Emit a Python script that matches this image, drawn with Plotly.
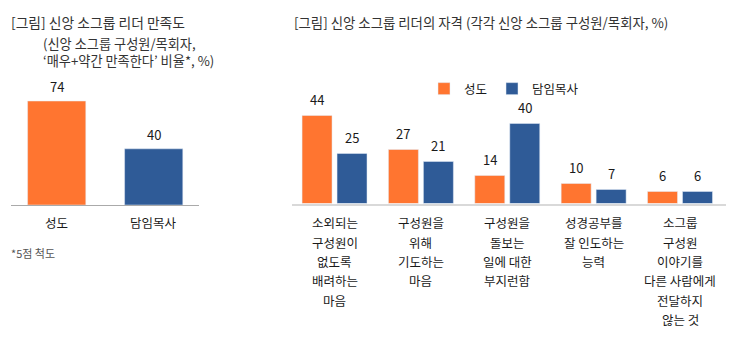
import plotly.graph_objects as go

W, H = 738, 339
FONT = "Noto Sans CJK KR"
ORANGE = "#FF7530"
BLUE = "#2F5B97"
TXT = "#1a1a1a"

# Left panel: satisfaction with small-group leader
sat_groups = ["성도", "담임목사"]
sat_values = [74, 40]

# Right panel: qualities of a small-group leader
qual_labels = [
    "소외되는<br>구성원이<br>없도록<br>배려하는<br>마음",
    "구성원을<br>위해<br>기도하는<br>마음",
    "구성원을<br>돌보는<br>일에 대한<br>부지런함",
    "성경공부를<br>잘 인도하는<br>능력",
    "소그룹<br>구성원<br>이야기를<br>다른 사람에게<br>전달하지<br>않는 것",
]
qual_members = [44, 27, 14, 10, 6]
qual_pastors = [25, 21, 40, 7, 6]
series_names = ["성도", "담임목사"]

title_left = "[그림] 신앙 소그룹 리더 만족도"
subtitle_left = "(신앙 소그룹 구성원/목회자,<br>‘매우+약간 만족한다’ 비율*, %)"
title_right = "[그림] 신앙 소그룹 리더의 자격 (각각 신앙 소그룹 구성원/목회자, %)"
footnote = "*5점 척도"


def px_x(p):
    return p / W


def px_y(p):
    return 1 - p / H


fig = go.Figure()

fig.add_trace(go.Bar(
    x=[0, 1], y=sat_values, marker_color=[ORANGE, BLUE],
    xaxis="x", yaxis="y", showlegend=False, width=0.6, hoverinfo="skip",
))

qx = list(range(len(qual_labels)))
fig.add_trace(go.Bar(
    x=qx, y=qual_members, name=series_names[0], marker_color=ORANGE,
    xaxis="x2", yaxis="y2", hoverinfo="skip",
))
fig.add_trace(go.Bar(
    x=qx, y=qual_pastors, name=series_names[1], marker_color=BLUE,
    xaxis="x2", yaxis="y2", hoverinfo="skip",
))

ann = []
# value labels above the bars
for i, v in enumerate(sat_values):
    ann.append(dict(x=i, y=v, xref="x", yref="y", text=str(v), showarrow=False,
                    yanchor="bottom", yshift=3, font=dict(size=13, color=TXT)))
for i, (a, b) in enumerate(zip(qual_members, qual_pastors)):
    ann.append(dict(x=i - 0.2026, y=a, xref="x2", yref="y2", text=str(a), showarrow=False,
                    yanchor="bottom", yshift=4, font=dict(size=13, color=TXT)))
    ann.append(dict(x=i + 0.2026, y=b, xref="x2", yref="y2", text=str(b), showarrow=False,
                    yanchor="bottom", yshift=4, font=dict(size=13, color=TXT)))

# category labels, one line at a time for a loose line height
for i, g in enumerate(sat_groups):
    ann.append(dict(x=i, y=px_y(222), xref="x", yref="paper", text=g, showarrow=False,
                    yanchor="middle", font=dict(size=12.5, color=TXT)))
for i, lab in enumerate(qual_labels):
    for j, line in enumerate(lab.split("<br>")):
        ann.append(dict(x=i, y=px_y(223), xref="x2", yref="paper", text=line,
                        showarrow=False, yanchor="middle", yshift=-19.3 * j,
                        font=dict(size=12.5, color=TXT)))

# titles and footnote
ann.append(dict(x=px_x(9), y=px_y(22), xref="paper", yref="paper", text=title_left,
                showarrow=False, xanchor="left", yanchor="middle",
                font=dict(size=13.8, color="#333333")))
ann.append(dict(x=px_x(41), y=px_y(52), xref="paper", yref="paper", text=subtitle_left,
                showarrow=False, xanchor="left", yanchor="middle", align="left",
                font=dict(size=13.2, color="#333333")))
ann.append(dict(x=px_x(292), y=px_y(22), xref="paper", yref="paper", text=title_right,
                showarrow=False, xanchor="left", yanchor="middle",
                font=dict(size=13.4, color="#333333")))
ann.append(dict(x=px_x(9), y=px_y(253), xref="paper", yref="paper", text=footnote,
                showarrow=False, xanchor="left", yanchor="middle",
                font=dict(size=11, color="#555555")))

fig.update_layout(
    width=W, height=H,
    margin=dict(l=0, r=0, t=0, b=0),
    paper_bgcolor="white", plot_bgcolor="white",
    font=dict(family=FONT, color=TXT),
    barmode="group", bargap=0.19, bargroupgap=0.143,
    annotations=ann,
    showlegend=True,
    legend=dict(orientation="h", x=px_x(424), y=px_y(74), xanchor="left", yanchor="top",
                font=dict(size=12.5, color=TXT),
                bgcolor="rgba(0,0,0,0)", itemclick=False, itemdoubleclick=False),
    xaxis=dict(domain=[px_x(10.7), px_x(199)], range=[-0.474, 1.467],
               showticklabels=False, showgrid=False, zeroline=False,
               showline=True, linecolor="#aaaaaa", linewidth=1, fixedrange=True),
    yaxis=dict(domain=[px_y(205), px_y(92.6)], range=[0, 80], visible=False, fixedrange=True),
    xaxis2=dict(domain=[px_x(292), px_x(726)], range=[-0.4925, 4.5325],
                showticklabels=False, showgrid=False, zeroline=False,
                showline=True, linecolor="#d9d9d9", linewidth=2, fixedrange=True,
                anchor="y2"),
    yaxis2=dict(domain=[px_y(203.5), px_y(103.5)], range=[0, 50], visible=False,
                fixedrange=True, anchor="x2"),
)

fig.write_html("out.html", config={"displayModeBar": False})
